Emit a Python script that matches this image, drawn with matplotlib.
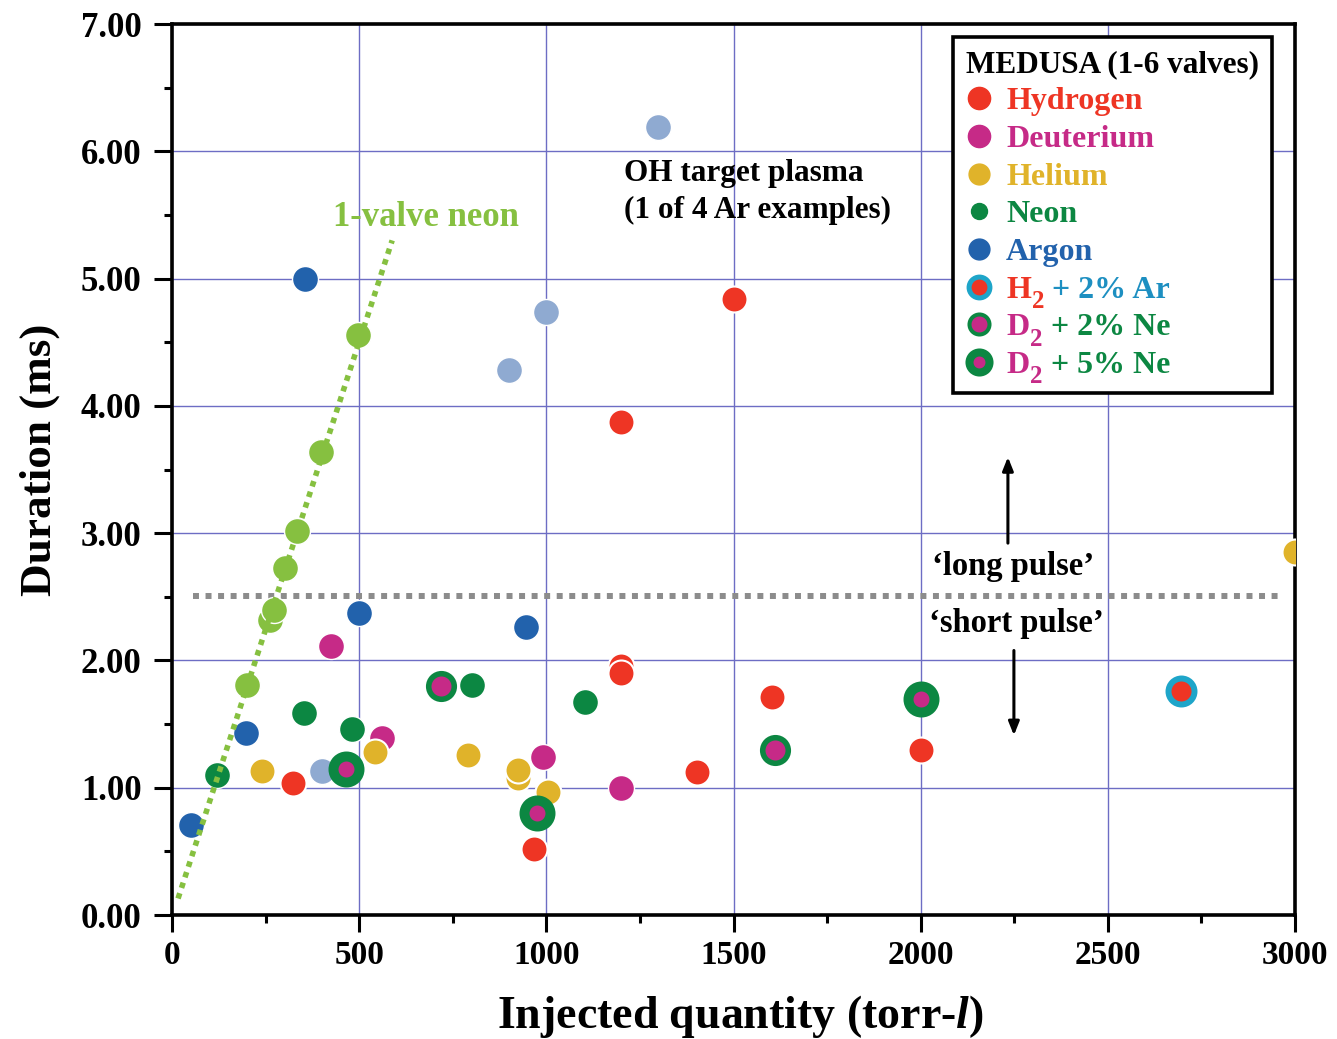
import matplotlib
matplotlib.use("Agg")
import matplotlib.pyplot as plt
from matplotlib.lines import Line2D
from matplotlib.ticker import MultipleLocator, FormatStrFormatter

plt.rcParams['font.family'] = ['Liberation Serif', 'DejaVu Serif']
plt.rcParams['font.weight'] = 'bold'
plt.rcParams['axes.labelweight'] = 'bold'
plt.rcParams['mathtext.fontset'] = 'custom'
plt.rcParams['mathtext.rm'] = 'Liberation Serif:bold'
plt.rcParams['mathtext.it'] = 'Liberation Serif:italic:bold'
plt.rcParams['mathtext.bf'] = 'Liberation Serif:bold'

# injected quantity (torr-l) and duration (ms) per gas
hydrogen_q = [323, 967, 1200, 1200, 1200, 1501, 1403, 1603, 2001]
hydrogen_t = [1.04, 0.52, 1.96, 1.90, 3.87, 4.84, 1.12, 1.71, 1.30]
deuterium_q = [425, 561, 991, 1200]
deuterium_t = [2.11, 1.39, 1.24, 1.00]
helium_q = [240, 542, 791, 924, 924, 1005, 3000]
helium_t = [1.13, 1.28, 1.26, 1.08, 1.14, 0.97, 2.85]
neon_q = [120, 353, 481, 801, 1103]
neon_t = [1.10, 1.59, 1.46, 1.81, 1.67]
argon_q = [51, 198, 355, 500, 946]
argon_t = [0.71, 1.43, 5.00, 2.37, 2.26]
oh_argon_q = [401, 900, 999, 1298]
oh_argon_t = [1.13, 4.28, 4.74, 6.19]
neon_1valve_q = [200, 262, 273, 302, 334, 398, 497]
neon_1valve_t = [1.81, 2.32, 2.40, 2.73, 3.02, 3.64, 4.56]
h2_ar_q = [2696]
h2_ar_t = [1.76]
d2_ne2_q = [719, 1611]
d2_ne2_t = [1.80, 1.30]
d2_ne5_q = [465, 975, 2001]
d2_ne5_t = [1.15, 0.80, 1.70]

# 1-valve neon trend and long/short pulse boundary
trend_q = [16, 588]
trend_t = [0.13, 5.30]
boundary_q = [56, 2955]
boundary_t = [2.51, 2.51]

RED = '#ee3524'
MAGENTA = '#c62a87'
YELLOW = '#e0b32a'
GREEN = '#0c8742'
BLUE = '#2262ac'
LIGHTBLUE = '#8faad1'
LIGHTGREEN = '#86c040'
CYAN = '#1ea5c9'
ARTEXT = '#1d8fc1'

fig = plt.figure(figsize=(13.37, 10.39), dpi=100)
ax = fig.add_axes([0.1287, 0.1193, 0.8399, 0.8576])

s = 350
ax.scatter(oh_argon_q, oh_argon_t, s=s, c=LIGHTBLUE, edgecolors='white', linewidths=1, zorder=3)
ax.scatter(neon_1valve_q, neon_1valve_t, s=s, c=LIGHTGREEN, edgecolors='white', linewidths=1, zorder=3)
ax.scatter(argon_q, argon_t, s=s, c=BLUE, edgecolors='white', linewidths=1, zorder=3)
ax.scatter(neon_q, neon_t, s=s, c=GREEN, edgecolors='white', linewidths=1, zorder=3)
ax.scatter(deuterium_q, deuterium_t, s=s, c=MAGENTA, edgecolors='white', linewidths=1, zorder=3)
ax.scatter(helium_q, helium_t, s=s, c=YELLOW, edgecolors='white', linewidths=1.5, zorder=3)
ax.scatter(hydrogen_q, hydrogen_t, s=s, c=RED, edgecolors='white', linewidths=1.5, zorder=3)
ax.scatter(h2_ar_q, h2_ar_t, s=18.7 ** 2, c=RED, edgecolors=CYAN, linewidths=4.3, zorder=3)
ax.scatter(d2_ne2_q, d2_ne2_t, s=18.4 ** 2, c=MAGENTA, edgecolors=GREEN, linewidths=4.0, zorder=3)
ax.scatter(d2_ne5_q, d2_ne5_t, s=18.7 ** 2, c=MAGENTA, edgecolors=GREEN, linewidths=7.2, zorder=3)

ax.plot(trend_q, trend_t, color=LIGHTGREEN, lw=4, linestyle=(0, (1, 1)), zorder=4)
ax.plot(boundary_q, boundary_t, color='#8c8c8c', lw=4.3, linestyle=(0, (1, 1.1)), zorder=2)

ax.text(679, 5.48, '1-valve neon', color=LIGHTGREEN, fontsize=25, ha='center', va='center')
ax.text(1208, 5.94, 'OH target plasma\n(1 of 4 Ar examples)', fontsize=22.5, ha='left', va='top',
        linespacing=1.36)
ax.text(2247, 2.74, '\u2018long pulse\u2019', fontsize=23.5, ha='center', va='center')
ax.text(2255, 2.29, '\u2018short pulse\u2019', fontsize=23.5, ha='center', va='center')
ax.annotate('', xy=(2233, 3.62), xytext=(2233, 2.90),
            arrowprops=dict(arrowstyle='-|>,head_length=0.5,head_width=0.2', color='black',
                            lw=2.2, mutation_scale=16))
ax.annotate('', xy=(2249, 1.39), xytext=(2249, 2.10),
            arrowprops=dict(arrowstyle='-|>,head_length=0.5,head_width=0.2', color='black',
                            lw=2.2, mutation_scale=16))

ax.set_xlim(0, 3000)
ax.set_ylim(0, 7)
ax.xaxis.set_major_locator(MultipleLocator(500))
ax.xaxis.set_minor_locator(MultipleLocator(250))
ax.yaxis.set_major_locator(MultipleLocator(1))
ax.yaxis.set_minor_locator(MultipleLocator(0.5))
ax.yaxis.set_major_formatter(FormatStrFormatter('%.2f'))
ax.grid(True, which='major', color='#6d6dc4', lw=1)
ax.set_axisbelow(True)
ax.tick_params(which='major', direction='out', length=12, width=2.2, pad=6)
ax.tick_params(axis='x', which='major', labelsize=24)
ax.tick_params(axis='y', which='major', labelsize=25, length=13, pad=9)
ax.tick_params(which='minor', direction='out', length=6, width=2.2)
for side in ['left', 'bottom', 'right', 'top']:
    ax.spines[side].set_linewidth(2.6)

ax.set_xlabel('Injected quantity (torr-$\\it{l}$)', fontsize=33, labelpad=16)
ax.xaxis.label.set_x(0.506)
ax.set_ylabel('Duration (ms)', fontsize=32.5, labelpad=15)
ax.yaxis.label.set_y(0.511)

handles = [
    Line2D([], [], ls='none', marker='o', ms=16, mfc=RED, mec=RED),
    Line2D([], [], ls='none', marker='o', ms=16, mfc=MAGENTA, mec=MAGENTA),
    Line2D([], [], ls='none', marker='o', ms=15, mfc=YELLOW, mec=YELLOW),
    Line2D([], [], ls='none', marker='o', ms=11.5, mfc=GREEN, mec=GREEN),
    Line2D([], [], ls='none', marker='o', ms=15, mfc=BLUE, mec=BLUE),
    Line2D([], [], ls='none', marker='o', ms=15, mfc=RED, mec=CYAN, mew=3.6),
    Line2D([], [], ls='none', marker='o', ms=14.4, mfc=MAGENTA, mec=GREEN, mew=2.9),
    Line2D([], [], ls='none', marker='o', ms=14.4, mfc=MAGENTA, mec=GREEN, mew=5.8),
]
labels = ['Hydrogen', 'Deuterium', 'Helium', 'Neon', 'Argon', 'H', 'D', 'D']
label_colors = [RED, MAGENTA, YELLOW, GREEN, BLUE, RED, MAGENTA, MAGENTA]
leg = ax.legend(handles, labels, loc='upper right', bbox_to_anchor=(0.9795, 0.9854),
                borderaxespad=0, fontsize=23, title='MEDUSA (1-6 valves)',
                title_fontproperties={'size': 22.5, 'weight': 'bold'}, alignment='left',
                fancybox=False, edgecolor='black', framealpha=1, handlelength=0.8,
                handletextpad=0.45, labelspacing=0.26, borderpad=0.4)
leg.get_frame().set_linewidth(2.6)
leg.set_zorder(5)
for t, c in zip(leg.get_texts(), label_colors):
    t.set_color(c)

# mixture labels: subscript 2, then the dopant part in its own colour
mixes = [(5, RED, ' + 2% Ar', ARTEXT),
         (6, MAGENTA, ' + 2% Ne', GREEN),
         (7, MAGENTA, ' + 5% Ne', GREEN)]
for i, hc, tail, tc in mixes:
    head = leg.get_texts()[i]
    sub = ax.annotate('2', xy=(1, 0), xycoords=head, xytext=(0.5, -6), textcoords='offset points',
                      fontsize=18, color=hc, va='bottom', ha='left', zorder=7)
    ax.annotate(tail, xy=(1, 0), xycoords=(sub, head), fontsize=23, color=tc,
                va='bottom', ha='left', zorder=8)

fig.savefig('out.png', dpi=100)
